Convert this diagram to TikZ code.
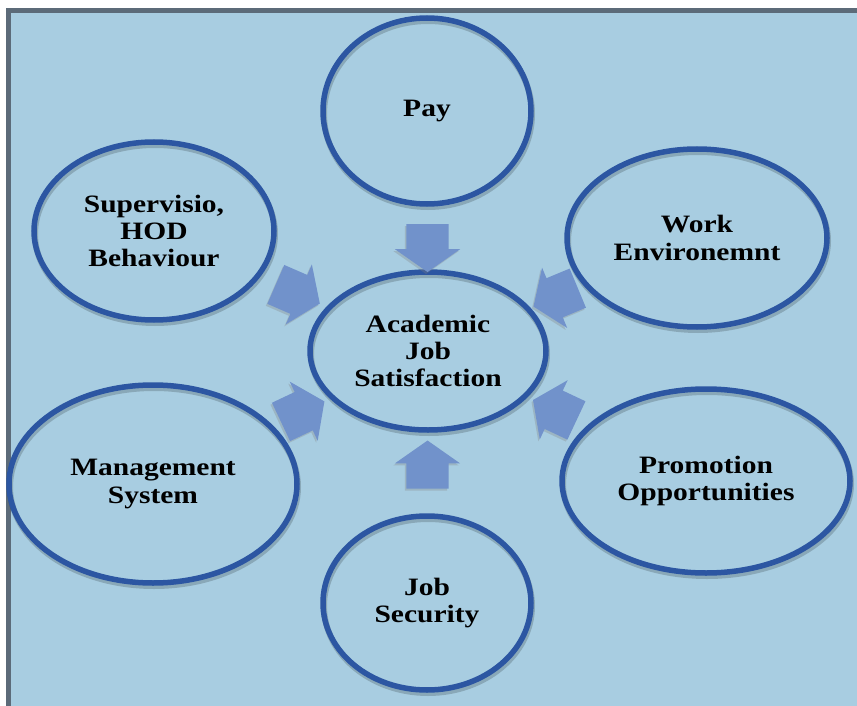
\documentclass[tikz,border=0pt]{standalone}
\usepackage{fontspec}
\setmainfont{Liberation Serif}[FakeStretch=1.18]
\usetikzlibrary{shapes.geometric,shapes.arrows,shadows,calc}
\definecolor{bgblue}{HTML}{A8CDE1}
\definecolor{ringblue}{HTML}{2C56A2}
\definecolor{arrblue}{HTML}{7192CB}
\definecolor{framegray}{HTML}{5C6B79}
\begin{document}
\begin{tikzpicture}[x=1pt,y=-1pt,
  factor/.style={ellipse, draw=ringblue, line width=5.5pt, inner sep=0pt, align=center,
    font=\fontsize{25}{27.3}\selectfont\bfseries, text=black,
    preaction={draw=black, draw opacity=0.18, line width=6pt,
      transform canvas={shift={(1pt,-3pt)}}}},
  inarrow/.style={single arrow, fill=arrblue, draw=none, minimum height=48pt,
    inner xsep=0pt, inner ysep=21pt, text width=0pt,
    single arrow head extend=11.5pt, single arrow head indent=0pt,
    single arrow tip angle=110,
    drop shadow={shadow xshift=-1.5pt, shadow yshift=-2pt, opacity=0.3}}
]
\useasboundingbox (0,0) rectangle (857,706);
\clip (0,0) rectangle (857,706);
\fill[white] (0,0) rectangle (857,706);
\fill[bgblue] (8.5,10.5) rectangle (870,720);
\draw[framegray, line width=5pt] (8.5,10.5) rectangle (870,720);

\node[factor, minimum width=208pt, minimum height=186pt] (pay) at (427,111) {Pay};
\node[factor, minimum width=240pt, minimum height=178pt] (sup) at (154,231) {Supervisio,\\HOD\\Behaviour};
\node[factor, minimum width=260pt, minimum height=178pt] (work) at (697,238) {Work\\Environemnt};
\node[factor, minimum width=236pt, minimum height=158pt] (acad) at (428,351) {Academic\\Job\\Satisfaction};
\node[factor, minimum width=288pt, minimum height=198pt] (mgmt) at (153,484) {Management\\System};
\node[factor, minimum width=288pt, minimum height=184pt] (promo) at (706,481) {Promotion\\Opportunities};
\node[factor, minimum width=208pt, minimum height=174pt] (job) at (427,603) {Job\\Security};

\node[inarrow, rotate=-90] (apay) at ($(pay)!0.54!(acad)$) {};
\node[inarrow, rotate=90] (ajob) at ($(job)!0.52!(acad)$) {};
\node[inarrow, rotate=-23.5] (asup) at ($(sup)!0.5!(acad)$) {};
\node[inarrow, rotate=-157.4] (awork) at ($(work)!0.5!(acad)$) {};
\node[inarrow, rotate=25.3] (amgmt) at ($(mgmt)!0.52!(acad)$) {};
\node[inarrow, rotate=154.8] (apromo) at ($(promo)!0.52!(acad)$) {};
\end{tikzpicture}
\end{document}
